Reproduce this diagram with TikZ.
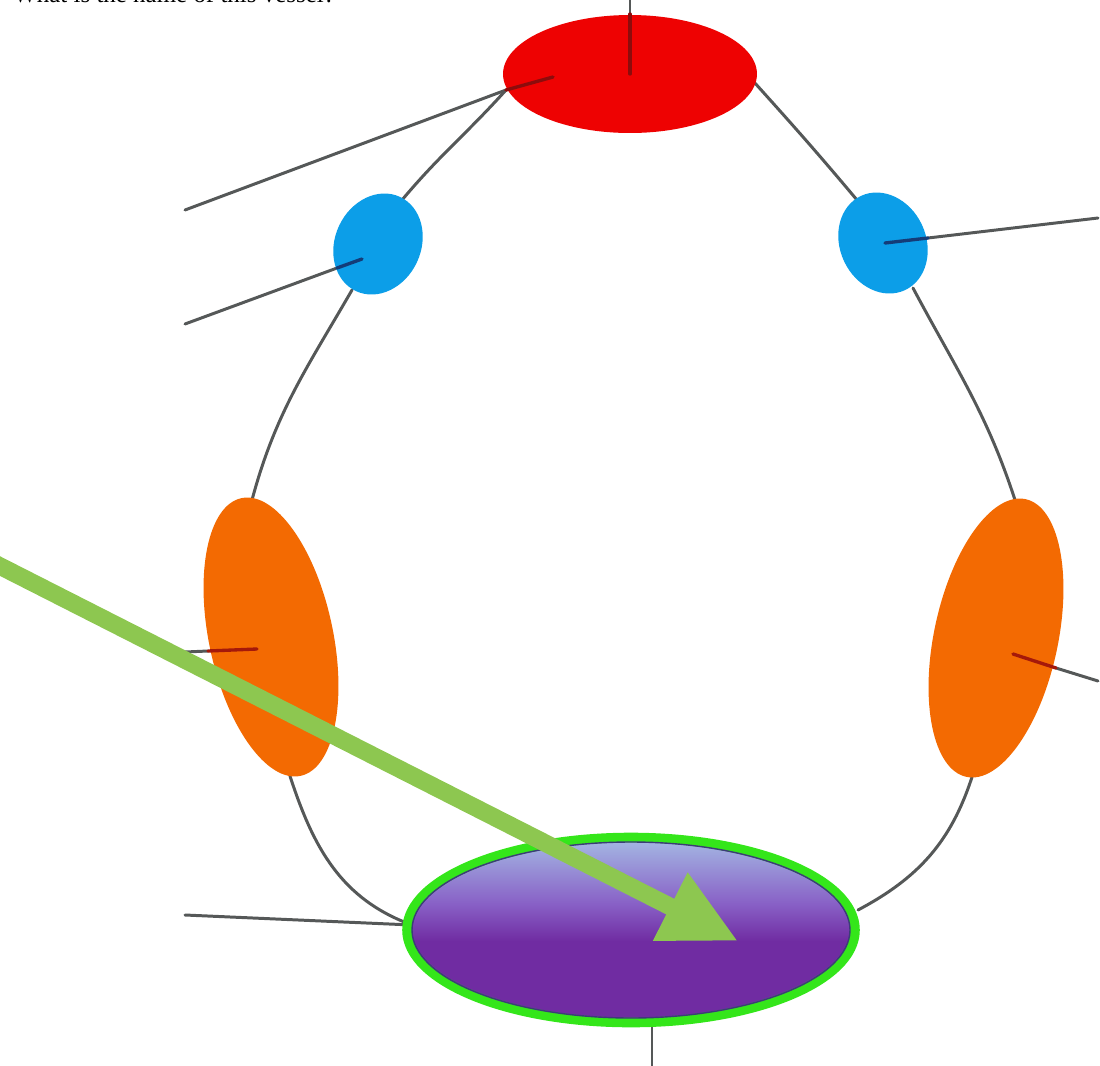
\documentclass[tikz,border=0pt]{standalone}
\usepackage{fontspec}
\setmainfont{Liberation Serif}
\usetikzlibrary{shapes.geometric,arrows.meta}
\definecolor{vred}{RGB}{238,2,2}
\definecolor{vblue}{RGB}{12,158,232}
\definecolor{vorange}{RGB}{243,106,2}
\definecolor{vgray}{RGB}{85,88,88}
\definecolor{stubred}{RGB}{140,12,12}
\definecolor{stubblue}{RGB}{20,60,120}
\definecolor{stuborange}{RGB}{165,25,10}
\definecolor{arrowgreen}{RGB}{141,199,80}
\definecolor{ringgreen}{RGB}{52,230,26}
\definecolor{ptop}{RGB}{165,186,228}
\definecolor{pmid}{RGB}{136,96,198}
\definecolor{pbot}{RGB}{112,44,162}
\definecolor{pline}{RGB}{60,60,120}
\pgfdeclareverticalshading{purpleshade}{100bp}{color(0bp)=(pbot); color(25bp)=(pbot); color(47bp)=(pbot); color(57bp)=(pmid); color(75bp)=(ptop); color(100bp)=(ptop)}
\begin{document}
\begin{tikzpicture}[x=0.02cm,y=0.02cm,
  vessel/.style={draw=vgray,line width=1.7pt,line cap=round},
  stub/.style={line width=1.9pt,line cap=round},
  blob/.style={ellipse,inner sep=0pt,outer sep=0pt,draw=none}]
\useasboundingbox (0,0) rectangle (1100,-1066);
\clip (0,0) rectangle (1100,-1066);
% cut-off question text
\node[anchor=base west,inner sep=0pt,font=\fontsize{14.2}{16}\selectfont] (q) at (13,-2.5) {What is the name of this vessel?};
% border coordinates
\coordinate (rl) at (506,-90);
\coordinate (rr) at (754,-82);
\coordinate (rtop) at (630,0);
\coordinate (bLt) at (402,-200);
\coordinate (bLb) at (352,-290);
\coordinate (bRt) at (857,-200);
\coordinate (bRb) at (913,-288);
\coordinate (oLt) at (252,-500);
\coordinate (oLb) at (290,-776);
\coordinate (oRt) at (1015,-500);
\coordinate (oRb) at (972,-777);
\coordinate (pL) at (412,-925);
\coordinate (pR) at (858,-910);
\coordinate (pB) at (652,-1024);
\coordinate (pBend) at (652,-1070);
\coordinate (e1) at (185,-210);
\coordinate (e2) at (185,-324);
\coordinate (e3) at (185,-652);
\coordinate (e4) at (185,-915);
\coordinate (e5) at (1098,-218);
\coordinate (e6) at (1098,-681);
\coordinate (bLin) at (337,-268);
\coordinate (oLin) at (208,-651);
\coordinate (bRin) at (928,-238);
\coordinate (oRin) at (1056,-668);
% vessel outline
\draw[vessel] (rl) to[out=228,in=50] (bLt);
\draw[vessel] (bLb) to[out=240,in=75] (oLt);
\draw[vessel] (oLb) to[out=-72,in=160] (pL);
\draw[vessel] (rr) to[out=-48,in=130] (bRt);
\draw[vessel] (bRb) to[out=-62,in=108] (oRt);
\draw[vessel] (oRb) to[out=-108,in=28] (pR);
% side branches
\draw[vessel] (e1) -- (rl);
\draw[vessel] (e2) -- (bLin);
\draw[vessel] (e3) -- (oLin);
\draw[vessel] (e4) -- (pL);
\draw[vessel] (bRin) -- (e5);
\draw[vessel] (oRin) -- (e6);
\draw[vessel] (rtop) -- (630,-20);
\draw[vessel] (pB) -- (pBend);
% coloured parts
\node[blob,fill=vred,minimum width=5.08cm,minimum height=2.36cm] (red) at (630,-74) {};
\node[blob,fill=vblue,minimum width=1.72cm,minimum height=2.08cm,rotate=-25] (blueL) at (378,-244) {};
\node[blob,fill=vblue,minimum width=1.72cm,minimum height=2.08cm,rotate=25] (blueR) at (883,-243) {};
\node[blob,fill=vorange,minimum width=2.48cm,minimum height=5.68cm,rotate=12] (orangeL) at (271,-637) {};
\node[blob,fill=vorange,minimum width=2.48cm,minimum height=5.68cm,rotate=-12] (orangeR) at (996,-638) {};
\node[blob,draw=ringgreen,line width=5.5pt,shading=purpleshade,minimum width=8.96cm,minimum height=3.7cm] (purple) at (631,-930) {};
\draw[pline,line width=0.8pt] (purple.center) ellipse [x radius=219,y radius=88];
% dark stubs inside the parts
\draw[stub,stubred] (630,-14) -- (red.center);
\draw[stub,stubred] (rl) -- (553,-77);
\draw[stub,stubblue] (bLin) -- (362,-259);
\draw[stub,stubblue] (885,-243) -- (bRin);
\draw[stub,stuborange] (oLin) -- (257,-649);
\draw[stub,stuborange] (1013,-654) -- (oRin);
% green pointer
\coordinate (as) at (-10,-561);
\coordinate (at) at (738,-941);
\draw[arrowgreen,line width=10pt,-{Triangle[length=1.52cm,width=1.43cm]}] (as) -- (at);
\end{tikzpicture}
\end{document}
